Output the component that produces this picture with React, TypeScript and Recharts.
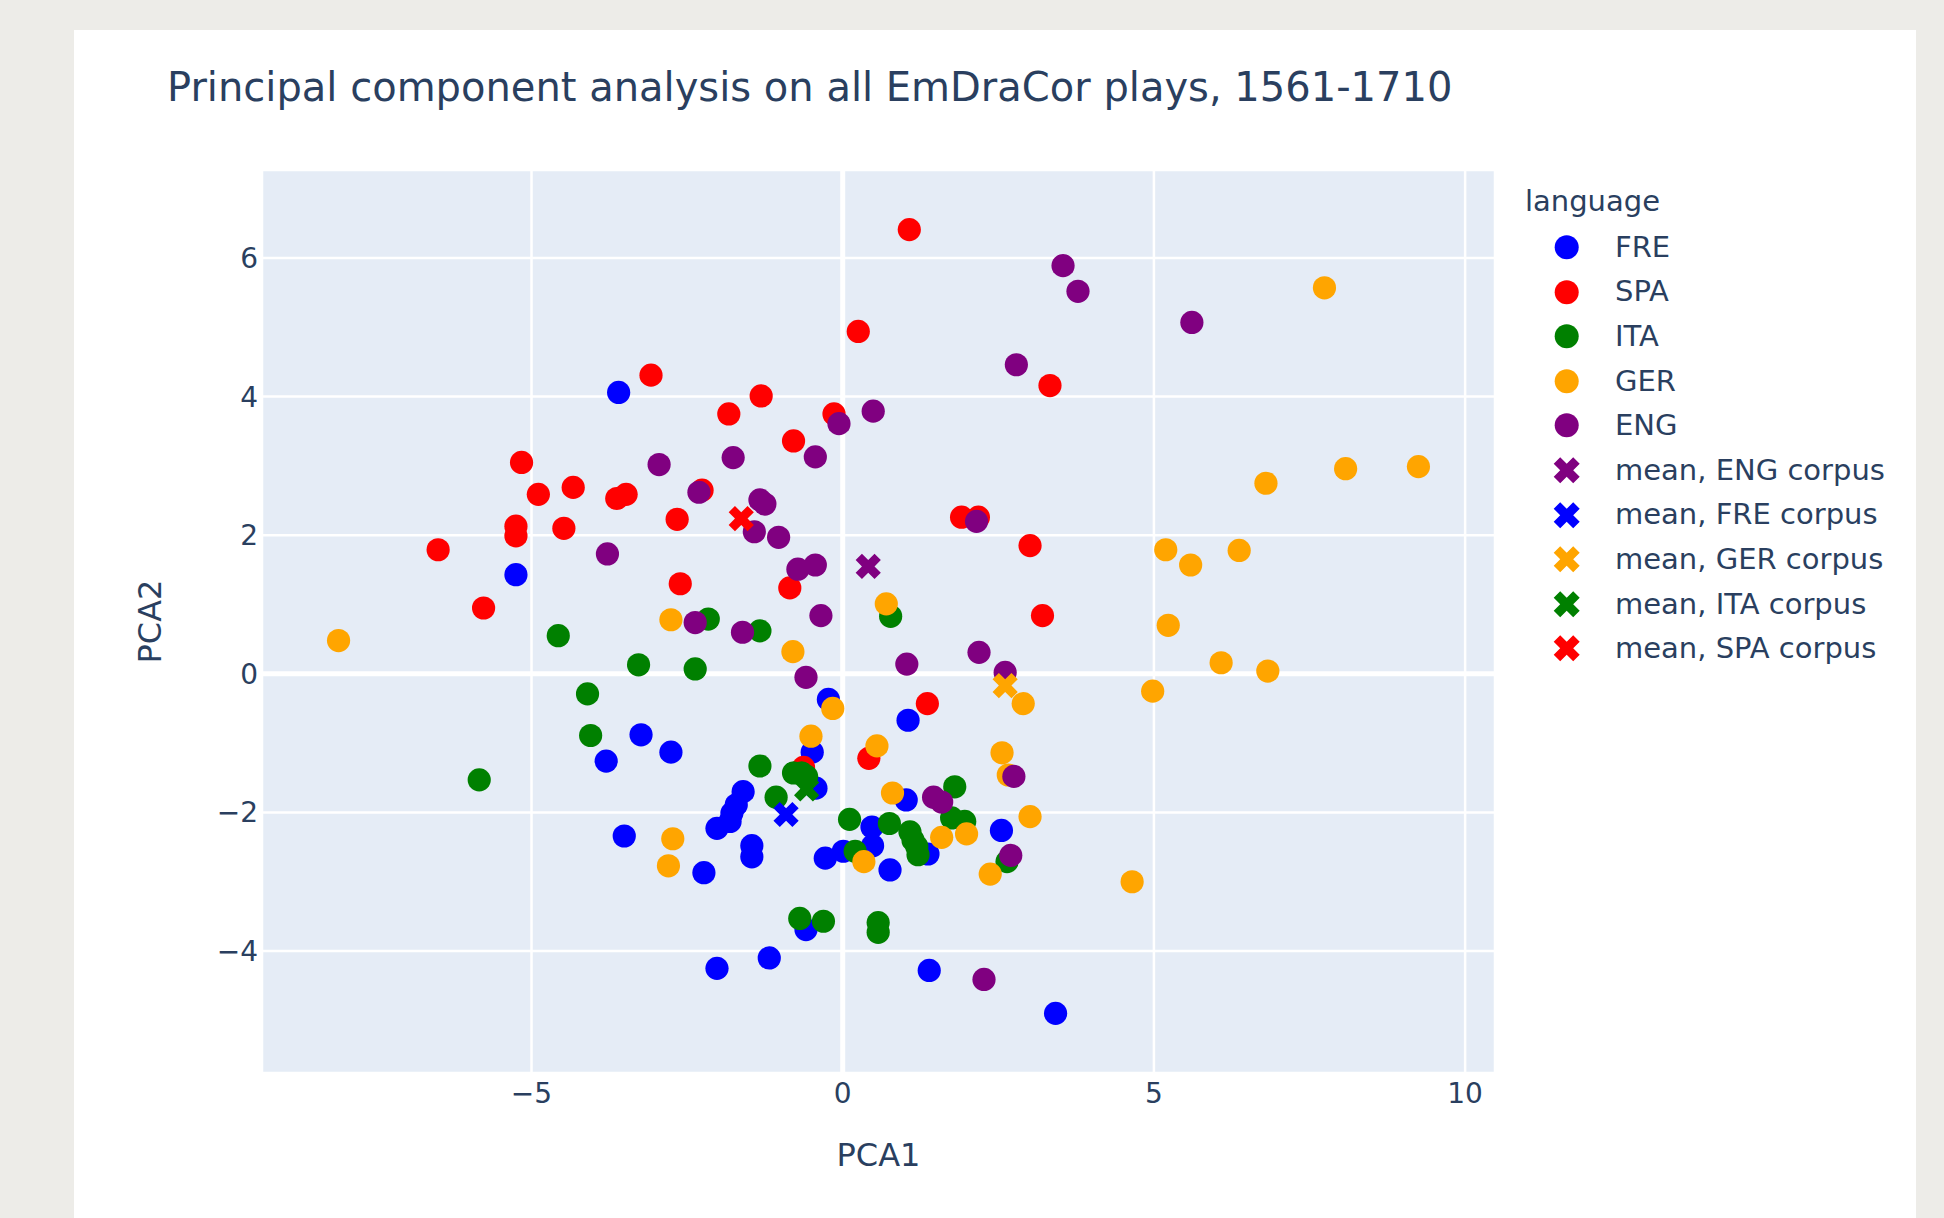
import { CartesianGrid, ReferenceLine, Scatter, ScatterChart, XAxis, YAxis } from 'recharts'

type Pt = [number, number]

// PCA1, PCA2 per play
const FRE: Pt[] = [
	[-3.6, 4.06], [-5.25, 1.43], [-3.24, -0.88], [-2.76, -1.13], [-3.8, -1.26], [-0.23, -0.37],
	[1.05, -0.67], [-0.49, -1.13], [-0.43, -1.65], [-1.6, -1.7], [-1.71, -1.89], [-1.78, -2.01],
	[-1.81, -2.13], [-2.02, -2.23], [-1.46, -2.48], [-1.46, -2.64], [-2.23, -2.87], [-3.51, -2.34],
	[0.47, -2.21], [1.02, -1.82], [1.37, -2.6], [2.55, -2.26], [0.01, -2.56], [-0.28, -2.66],
	[0.48, -2.48], [0.76, -2.83], [-0.59, -3.69], [-2.02, -4.25], [-1.18, -4.1], [1.39, -4.28],
	[3.42, -4.9],
]
const SPA: Pt[] = [
	[-3.08, 4.31], [-5.16, 3.05], [1.07, 6.41], [0.25, 4.94], [3.33, 4.16], [-1.31, 4.01],
	[-1.83, 3.75], [-0.14, 3.75], [-0.79, 3.36], [-4.89, 2.59], [-4.33, 2.69], [-3.63, 2.53],
	[-3.48, 2.59], [-2.26, 2.65], [-2.66, 2.23], [-5.25, 2.13], [-5.25, 1.99], [-4.48, 2.1],
	[-6.5, 1.79], [-2.61, 1.3], [-5.77, 0.95], [1.91, 2.26], [2.18, 2.26], [3.01, 1.85],
	[-0.85, 1.24], [3.21, 0.84], [1.36, -0.43], [0.42, -1.22], [-0.63, -1.35],
]
const ITA: Pt[] = [
	[-4.57, 0.55], [-3.28, 0.13], [-2.37, 0.07], [-4.1, -0.29], [-4.05, -0.89], [-5.84, -1.53],
	[0.77, 0.83], [-2.16, 0.79], [-1.33, 0.62], [-1.33, -1.33], [-0.79, -1.43], [-0.66, -1.43],
	[-0.58, -1.48], [-1.07, -1.78], [0.11, -2.1], [0.75, -2.16], [1.8, -1.63], [1.75, -2.08],
	[1.96, -2.13], [1.08, -2.28], [1.13, -2.4], [1.19, -2.49], [1.21, -2.61], [2.64, -2.71],
	[0.2, -2.56], [-0.69, -3.53], [-0.31, -3.57], [0.57, -3.59], [0.57, -3.73],
]
const GER: Pt[] = [
	[7.74, 5.57], [6.8, 2.75], [8.08, 2.96], [9.25, 2.99], [5.19, 1.79], [5.59, 1.57],
	[6.37, 1.78], [5.23, 0.7], [6.08, 0.16], [6.83, 0.04], [4.98, -0.25], [4.65, -3.0],
	[-2.76, 0.78], [-8.1, 0.48], [0.7, 1.01], [-0.8, 0.32], [2.9, -0.43], [-0.16, -0.5],
	[-0.51, -0.9], [0.55, -1.04], [2.56, -1.14], [2.66, -1.46], [-2.73, -2.38], [-2.8, -2.77],
	[0.8, -1.72], [1.59, -2.36], [1.99, -2.31], [3.01, -2.06], [2.37, -2.89], [0.34, -2.71],
]
const ENG: Pt[] = [
	[-2.95, 3.02], [3.54, 5.89], [3.78, 5.52], [2.79, 4.46], [-0.06, 3.61], [0.49, 3.79],
	[-1.76, 3.12], [-0.44, 3.13], [5.61, 5.07], [-2.31, 2.62], [-3.78, 1.73], [-2.37, 0.74],
	[-1.33, 2.51], [-1.25, 2.45], [-1.42, 2.05], [-1.03, 1.97], [2.15, 2.2], [-0.72, 1.51],
	[-0.44, 1.57], [-1.61, 0.6], [-0.35, 0.84], [-0.59, -0.05], [1.03, 0.14], [2.19, 0.31],
	[2.61, 0.02], [2.75, -1.48], [1.46, -1.78], [1.59, -1.85], [2.7, -2.62], [2.27, -4.41],
]

const LANGUAGES = ['FRE', 'SPA', 'ITA', 'GER', 'ENG']
const PLAYS: Record<string, Pt[]> = { FRE, SPA, ITA, GER, ENG }

const MEAN_CORPORA = ['ENG', 'FRE', 'GER', 'ITA', 'SPA']
const MEAN_PCA1 = [0.41, -0.91, 2.61, -0.58, -1.63]
const MEAN_PCA2 = [1.55, -2.03, -0.17, -1.66, 2.24]

const X_TICKS = [-5, 0, 5, 10]
const Y_TICKS = [-4, -2, 0, 2, 4, 6]

const COLOR: Record<string, string> = {
	FRE: '#0000ff',
	SPA: '#ff0000',
	ITA: '#008000',
	GER: '#ffa500',
	ENG: '#800080',
}

const FONT = "'DejaVu Sans', Verdana, sans-serif"
const INK = '#2a3f5f'
const DOT_R = 11.6
const CROSS_T = 6.3

function crossPath(cx: number, cy: number, t: number) {
	const pts = [
		[0, t], [t, 2 * t], [2 * t, t], [t, 0], [2 * t, -t], [t, -2 * t],
		[0, -t], [-t, -2 * t], [-2 * t, -t], [-t, 0], [-2 * t, t], [-t, 2 * t],
	]
	return 'M' + pts.map(([dx, dy]) => `${cx + dx},${cy + dy}`).join('L') + 'Z'
}

const fmt = (v: number) => (v < 0 ? `\u2212${Math.abs(v)}` : `${v}`)

function LegendRow({ label, color, cross }: { label: string; color: string; cross: boolean }) {
	return (
		<div style={{ display: 'flex', alignItems: 'center', height: 44.6 }}>
			<svg width={90} height={44.6} style={{ flex: 'none' }}>
				{cross ? (
					<path d={crossPath(41.7, 22.3, 6.5)} fill={color} />
				) : (
					<circle cx={41.7} cy={22.3} r={12} fill={color} />
				)}
			</svg>
			<span style={{ fontSize: 29, lineHeight: '29px', whiteSpace: 'nowrap' }}>{label}</span>
		</div>
	)
}

export default function App() {
	const toData = (pts: Pt[]) => pts.map(([x, y]) => ({ x, y }))
	return (
		<div style={{ position: 'absolute', left: 0, top: 0, width: 1944, height: 1218, background: '#edece8', overflow: 'hidden' }}>
			<div style={{ position: 'absolute', left: 74, top: 30, width: 1842, height: 1188, background: '#ffffff' }} />
			<div
				style={{
					position: 'absolute',
					left: 167,
					top: 67,
					fontFamily: FONT,
					fontSize: 40,
					lineHeight: '40px',
					color: INK,
					whiteSpace: 'nowrap',
				}}
			>
				Principal component analysis on all EmDraCor plays, 1561-1710
			</div>
			<div style={{ position: 'absolute', left: 0, top: 0 }}>
				<ScatterChart width={1944} height={1218} margin={{ top: 170, right: 449, bottom: 45, left: 112 }}>
					<CartesianGrid fill='#E5ECF6' stroke='#ffffff' strokeWidth={2.5} />
					<XAxis
						type='number'
						dataKey='x'
						domain={[-9.33, 10.48]}
						ticks={X_TICKS}
						tickFormatter={fmt}
						axisLine={false}
						tickLine={false}
						tickSize={0}
						tickMargin={10}
						height={100}
						tick={{ fill: INK, fontSize: 28, fontFamily: FONT }}
						label={{ value: 'PCA1', position: 'insideBottom', offset: 7, fill: INK, fontSize: 32, fontFamily: FONT }}
					/>
					<YAxis
						type='number'
						dataKey='y'
						domain={[-5.76, 7.27]}
						ticks={Y_TICKS}
						tickFormatter={fmt}
						axisLine={false}
						tickLine={false}
						tickSize={0}
						tickMargin={4}
						width={150}
						tick={{ fill: INK, fontSize: 28, fontFamily: FONT }}
						label={{
							value: 'PCA2',
							angle: -90,
							position: 'insideLeft',
							offset: 38,
							fill: INK,
							fontSize: 32,
							fontFamily: FONT,
							style: { textAnchor: 'middle' },
						}}
					/>
					<ReferenceLine x={0} stroke='#ffffff' strokeWidth={5} />
					<ReferenceLine y={0} stroke='#ffffff' strokeWidth={5} />
					{LANGUAGES.map((lang) => (
						<Scatter
							key={lang}
							name={lang}
							data={toData(PLAYS[lang])}
							fill={COLOR[lang]}
							isAnimationActive={false}
							shape={(p: any) => <circle cx={p.cx} cy={p.cy} r={DOT_R} fill={COLOR[lang]} />}
						/>
					))}
					{MEAN_CORPORA.map((lang, i) => (
						<Scatter
							key={'mean-' + lang}
							name={`mean, ${lang} corpus`}
							data={[{ x: MEAN_PCA1[i], y: MEAN_PCA2[i] }]}
							fill={COLOR[lang]}
							isAnimationActive={false}
							shape={(p: any) => <path d={crossPath(p.cx, p.cy, CROSS_T)} fill={COLOR[lang]} />}
						/>
					))}
				</ScatterChart>
			</div>
			<div style={{ position: 'absolute', left: 1525, top: 187, fontFamily: FONT, color: INK }}>
				<div style={{ fontSize: 29, lineHeight: '29px', height: 38, whiteSpace: 'nowrap' }}>language</div>
				{LANGUAGES.map((lang) => (
					<LegendRow key={lang} label={lang} color={COLOR[lang]} cross={false} />
				))}
				{MEAN_CORPORA.map((lang) => (
					<LegendRow key={'m' + lang} label={`mean, ${lang} corpus`} color={COLOR[lang]} cross />
				))}
			</div>
		</div>
	)
}
